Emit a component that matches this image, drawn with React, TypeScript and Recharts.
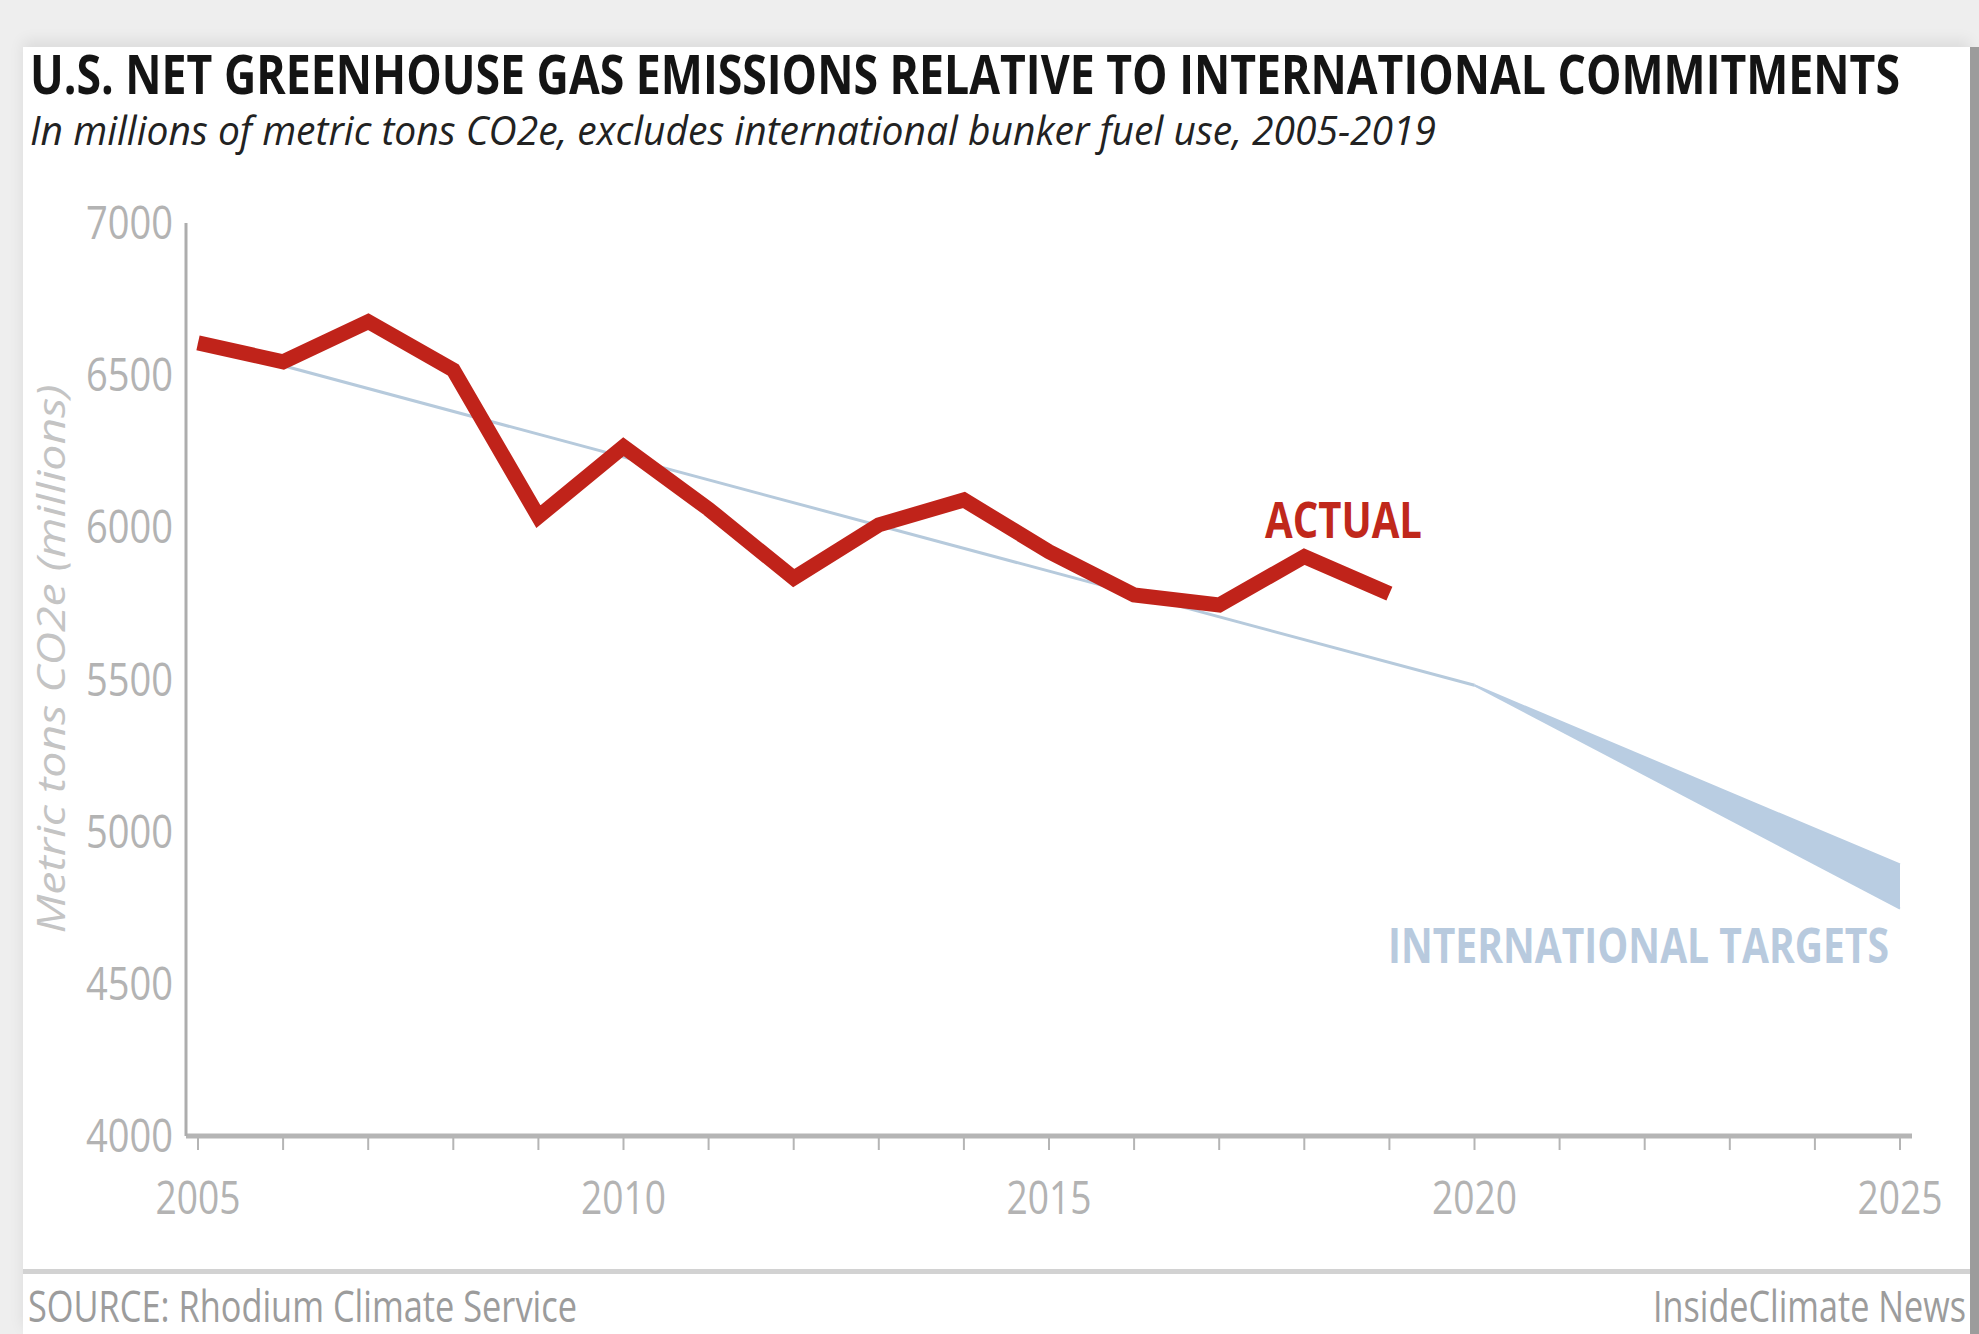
import { ComposedChart, XAxis, YAxis, Line, Area } from 'recharts'

const years = [2005, 2006, 2007, 2008, 2009, 2010, 2011, 2012, 2013, 2014, 2015, 2016, 2017, 2018, 2019]
const actual = [6606, 6544, 6676, 6517, 6035, 6265, 6060, 5833, 6008, 6090, 5920, 5778, 5745, 5904, 5782]

const targetYears = [2005, 2020]
const targetValues = [6606, 5481]

const bandYears = [2020, 2025]
const bandLow = [5481, 4747]
const bandHigh = [5481, 4892]

const xTicks = [2005, 2006, 2007, 2008, 2009, 2010, 2011, 2012, 2013, 2014, 2015, 2016, 2017, 2018, 2019, 2020, 2021, 2022, 2023, 2024, 2025]
const yTicks = [4000, 4500, 5000, 5500, 6000, 6500, 7000]

const allYears = Array.from(new Set([...years, ...targetYears, ...bandYears])).sort((a, b) => a - b)
const data = allYears.map((year) => {
  const ai = years.indexOf(year)
  const ti = targetYears.indexOf(year)
  const bi = bandYears.indexOf(year)
  return {
    year,
    actual: ai >= 0 ? actual[ai] : null,
    target: ti >= 0 ? targetValues[ti] : null,
    band: bi >= 0 ? [bandLow[bi], bandHigh[bi]] : null,
  }
})

const font = '"Open Sans", sans-serif'

const XTick = (props: any) => {
  const { x, y, payload } = props
  if (payload.value % 5 !== 0) return <g />
  return (
    <text x={x} y={y + 64} textAnchor="middle" fill="#b3b3b3" fontFamily={font} fontSize={45} textLength={85} lengthAdjust="spacingAndGlyphs">
      {payload.value}
    </text>
  )
}

const YTick = (props: any) => {
  const { x, y, payload } = props
  return (
    <text x={x} y={y + 16} textAnchor="end" fill="#b3b3b3" fontFamily={font} fontSize={45} textLength={87} lengthAdjust="spacingAndGlyphs">
      {payload.value}
    </text>
  )
}

export default function App() {
  return (
    <div style={{ position: 'absolute', left: 0, top: 0, width: 1979, height: 1334, background: '#eeeeee', overflow: 'hidden' }}>
      <div style={{ position: 'absolute', left: 23, top: 47, width: 1947, height: 1287, background: '#ffffff', boxShadow: '0 -6px 14px rgba(0,0,0,0.08)' }} />
      <div style={{ position: 'absolute', left: 1970, top: 47, width: 9, height: 1287, background: '#9c9c9c' }} />
      <div style={{ position: 'absolute', left: 0, top: 0 }}>
        <ComposedChart width={1979} height={1334} data={data} margin={{ top: 223, right: 67, bottom: 98, left: 0 }}>
          <XAxis
            type="number"
            dataKey="year"
            domain={[2005, 2025]}
            ticks={xTicks}
            interval={0}
            padding={{ left: 12, right: 12 }}
            height={100}
            tickSize={14}
            tickMargin={0}
            axisLine={{ stroke: '#b5b5b5', strokeWidth: 5 }}
            tickLine={{ stroke: '#b5b5b5', strokeWidth: 2 }}
            tick={<XTick />}
          />
          <YAxis
            type="number"
            domain={[4000, 7000]}
            ticks={yTicks}
            interval={0}
            width={186}
            tickSize={0}
            tickMargin={13}
            axisLine={{ stroke: '#adadad', strokeWidth: 3 }}
            tickLine={false}
            tick={<YTick />}
          />
          <Area
            type="linear"
            dataKey="band"
            stroke="#b9cde2"
            strokeWidth={2}
            fill="#b9cde2"
            fillOpacity={1}
            isAnimationActive={false}
            dot={false}
            activeDot={false}
          />
          <Line
            type="linear"
            dataKey="target"
            stroke="#b6cadc"
            strokeWidth={3}
            dot={false}
            activeDot={false}
            connectNulls
            isAnimationActive={false}
          />
          <Line
            type="linear"
            dataKey="actual"
            stroke="#c0231a"
            strokeWidth={15}
            strokeLinejoin="miter"
            dot={false}
            activeDot={false}
            isAnimationActive={false}
          />
        </ComposedChart>
      </div>
      <svg width={1979} height={1334} style={{ position: 'absolute', left: 0, top: 0, pointerEvents: 'none' }}>
        <text x={30} y={94} fontFamily={font} fontWeight={700} fontSize={54} fill="#141414" textLength={1870} lengthAdjust="spacingAndGlyphs">
          U.S. NET GREENHOUSE GAS EMISSIONS RELATIVE TO INTERNATIONAL COMMITMENTS
        </text>
        <text x={30} y={145} fontFamily={font} fontStyle="italic" fontSize={40} fill="#222222" textLength={1406} lengthAdjust="spacingAndGlyphs">
          In millions of metric tons CO2e, excludes international bunker fuel use, 2005-2019
        </text>
        <text x={50} y={659} transform="rotate(-90 50 659)" textAnchor="middle" dominantBaseline="central" fontFamily={font} fontStyle="italic" fontSize={38} fill="#c4c4c4" textLength={549} lengthAdjust="spacingAndGlyphs">
          Metric tons CO2e (millions)
        </text>
        <text x={1265} y={538} fontFamily={font} fontWeight={700} fontSize={50} fill="#c0281b" textLength={157} lengthAdjust="spacingAndGlyphs">
          ACTUAL
        </text>
        <text x={1388} y={963} fontFamily={font} fontWeight={700} fontSize={49} fill="#b8cade" textLength={501} lengthAdjust="spacingAndGlyphs">
          INTERNATIONAL TARGETS
        </text>
        <rect x={23} y={1269} width={1947} height={5} fill="#d2d2d2" />
        <text x={28} y={1322} fontFamily={font} fontSize={43} fill="#9c9c9c" textLength={549} lengthAdjust="spacingAndGlyphs">
          SOURCE: Rhodium Climate Service
        </text>
        <text x={1966} y={1322} textAnchor="end" fontFamily={font} fontSize={43} fill="#9c9c9c" textLength={313} lengthAdjust="spacingAndGlyphs">
          InsideClimate News
        </text>
      </svg>
    </div>
  )
}
